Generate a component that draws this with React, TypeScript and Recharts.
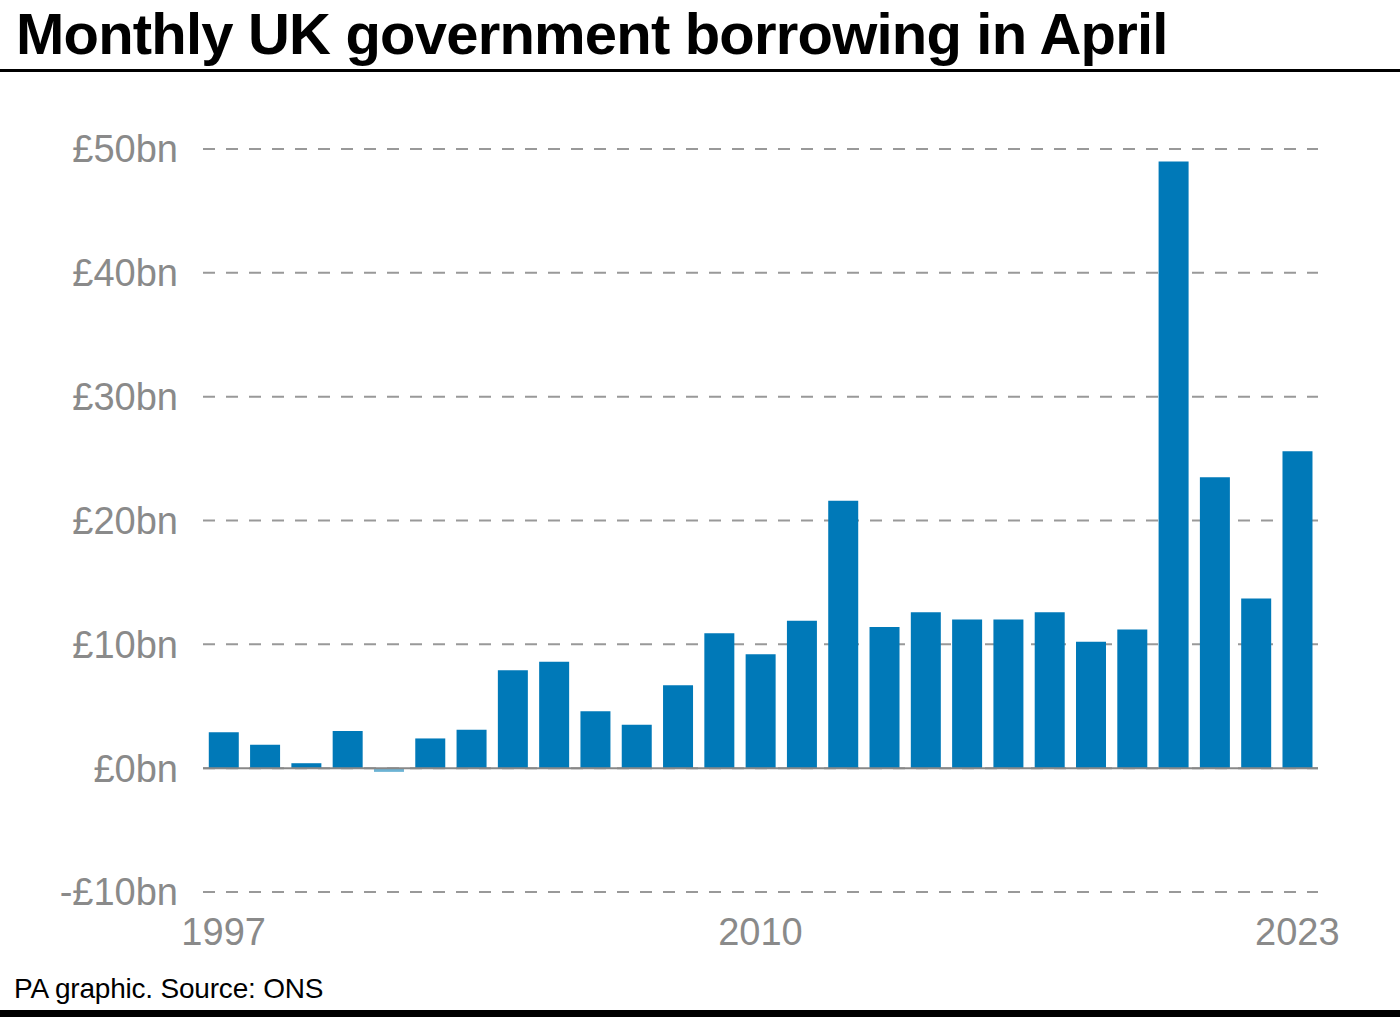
import { BarChart, Bar, Cell, XAxis, YAxis, CartesianGrid, ReferenceLine } from 'recharts';

const years = [
  1997, 1998, 1999, 2000, 2001, 2002, 2003, 2004, 2005, 2006, 2007, 2008, 2009, 2010,
  2011, 2012, 2013, 2014, 2015, 2016, 2017, 2018, 2019, 2020, 2021, 2022, 2023,
];
const borrowing = [
  2.9, 1.9, 0.4, 3.0, -0.3, 2.4, 3.1, 7.9, 8.6, 4.6, 3.5, 6.7, 10.9, 9.2,
  11.9, 21.6, 11.4, 12.6, 12.0, 12.0, 12.6, 10.2, 11.2, 49.0, 23.5, 13.7, 25.6,
];
const yTicks = [-10, 0, 10, 20, 30, 40, 50];

const data = years.map((year, i) => ({ year, value: borrowing[i] }));

const fmt = (v: number) => (v < 0 ? `-£${-v}bn` : `£${v}bn`);

const App = () => {
  return (
    <div style={{ position: 'fixed', left: 0, top: 0, width: 1400, height: 1017, background: '#fff', overflow: 'hidden' }}>
      <div
        style={{
          position: 'absolute', left: 16, top: 0, fontFamily: '"Liberation Sans", Arial, sans-serif',
          fontWeight: 700, fontSize: 58, color: '#000', letterSpacing: -0.8, whiteSpace: 'nowrap',
        }}
      >
        Monthly UK government borrowing in April
      </div>
      <div style={{ position: 'absolute', left: 0, top: 69, width: 1400, height: 3, background: '#000' }} />
      <div style={{ position: 'absolute', left: 0, top: 0 }}>
        <BarChart
          width={1400}
          height={1017}
          data={data}
          barCategoryGap="14%"
          margin={{ top: 149, right: 82, bottom: 60, left: 0 }}
        >
          <CartesianGrid vertical={false} stroke="#999" strokeWidth={2} strokeDasharray="12 11" />
          <XAxis
            dataKey="year"
            interval={12}
            axisLine={false}
            tickLine={false}
            tickMargin={20}
            height={65}
            tick={{ fill: '#8a8a8a', fontSize: 38, fontFamily: '"Liberation Sans", Arial, sans-serif' }}
          />
          <YAxis
            domain={[-10, 50]}
            ticks={yTicks}
            tickFormatter={fmt}
            axisLine={false}
            tickLine={false}
            tickMargin={19}
            width={203}
            tick={{ fill: '#8a8a8a', fontSize: 38, fontFamily: '"Liberation Sans", Arial, sans-serif' }}
          />
          <ReferenceLine y={0} stroke="#888" strokeWidth={2} />
          <Bar dataKey="value" isAnimationActive={false}>
            {data.map((d, i) => (
              <Cell key={`cell-${i}`} fill={d.value < 0 ? '#6cb3d4' : '#0079b8'} />
            ))}
          </Bar>
        </BarChart>
      </div>
      <div
        style={{
          position: 'absolute', left: 14, top: 973, fontFamily: '"Liberation Sans", Arial, sans-serif',
          fontSize: 28, color: '#000', letterSpacing: -0.2, whiteSpace: 'nowrap',
        }}
      >
        PA graphic. Source: ONS
      </div>
      <div style={{ position: 'absolute', left: 0, top: 1010, width: 1400, height: 7, background: '#000' }} />
    </div>
  );
};

export default App;
